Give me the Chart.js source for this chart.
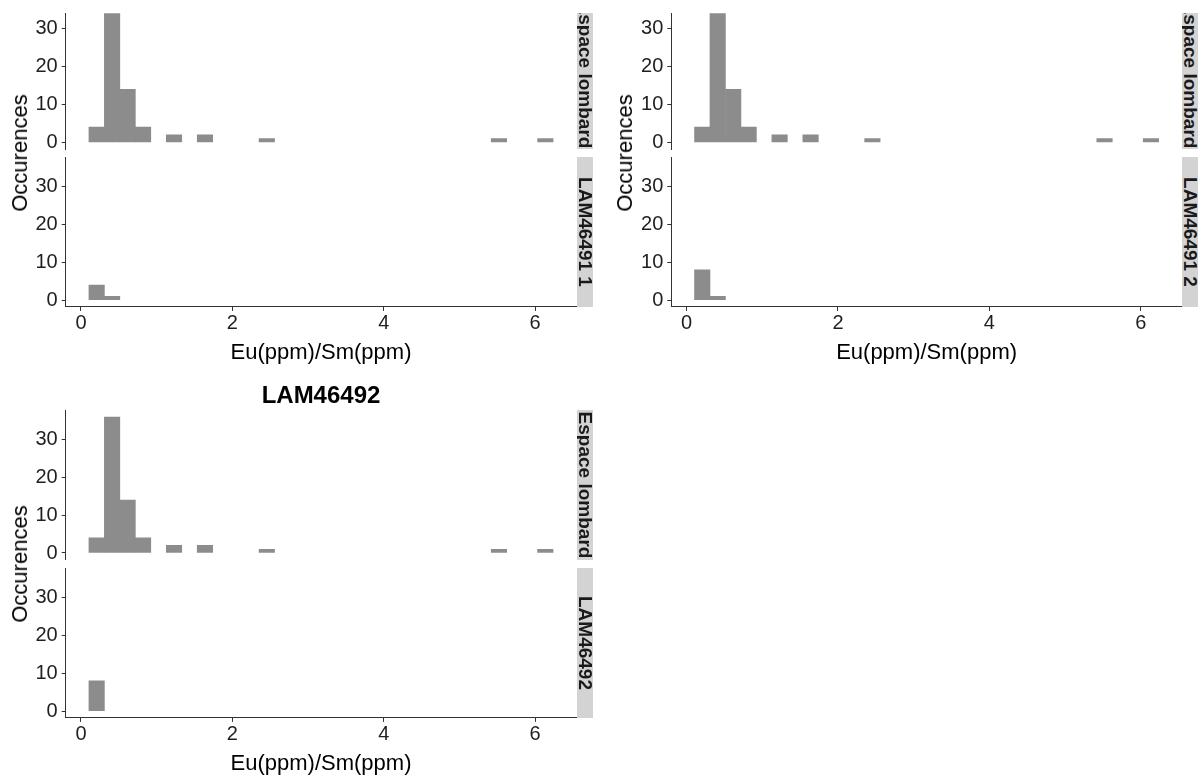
<!DOCTYPE html>
<html>
<head>
<meta charset="utf-8">
<title>Eu(ppm)/Sm(ppm) histograms</title>
<script src="https://cdn.jsdelivr.net/npm/chart.js@4.4.1/dist/chart.umd.min.js"></script>
<style>
  html, body { margin:0; padding:0; background:#ffffff; }
  #page { position:relative; width:1198px; height:776px; overflow:hidden; font-family:"Liberation Sans", Arial, Helvetica, sans-serif; }
  #page canvas { position:absolute; }
  .strip { position:absolute; background:#d3d3d3; overflow:hidden; }
  .strip span { position:absolute; left:50%; white-space:nowrap; font-weight:bold; font-size:19px; line-height:1; color:#1a1a1a; transform:translate(-50%,-50%) rotate(90deg); }
  .ytitle { position:absolute; white-space:nowrap; font-size:22px; line-height:1; color:#000; transform:translate(-50%,-50%) rotate(-90deg); }
  .ptitle { position:absolute; white-space:nowrap; font-size:24px; font-weight:bold; line-height:1; color:#000; transform:translate(-50%,-50%); }
</style>
</head>
<body>
<div id="page"></div>
<script>
// ---------------- data ----------------
const binCenters = [0.207, 0.411, 0.616, 0.820, 1.024, 1.229, 1.433, 1.638, 1.842, 2.046,
                    2.251, 2.455, 2.660, 2.864, 3.069, 3.273, 3.477, 3.682, 3.886, 4.091,
                    4.295, 4.500, 4.704, 4.908, 5.113, 5.317, 5.522, 5.726, 5.930, 6.135];
const espaceLombard = [4, 36, 14, 4, 0, 2, 0, 2, 0, 0,
                       0, 1, 0, 0, 0, 0, 0, 0, 0, 0,
                       0, 0, 0, 0, 0, 0, 1, 0, 0, 1];
const lam46491_1 = [4, 1, 0, 0, 0, 0, 0, 0, 0, 0,
                    0, 0, 0, 0, 0, 0, 0, 0, 0, 0,
                    0, 0, 0, 0, 0, 0, 0, 0, 0, 0];
const lam46491_2 = [8, 1, 0, 0, 0, 0, 0, 0, 0, 0,
                    0, 0, 0, 0, 0, 0, 0, 0, 0, 0,
                    0, 0, 0, 0, 0, 0, 0, 0, 0, 0];
const lam46492 = [8, 0, 0, 0, 0, 0, 0, 0, 0, 0,
                  0, 0, 0, 0, 0, 0, 0, 0, 0, 0,
                  0, 0, 0, 0, 0, 0, 0, 0, 0, 0];
const xTickValues = [0, 2, 4, 6];
const yTickValues = [0, 10, 20, 30];
const xLimits = [-0.202, 6.544];
const yLimits = [-1.8, 37.8];
const yLimitsCropped = [-1.8, 34.15];
const referenceLabel = 'Espace lombard';
const xTitle = 'Eu(ppm)/Sm(ppm)';
const yTitle = 'Occurences';

// ---------------- style ----------------
const BAR = '#8c8c8c';
const AXIS = '#333333';
const TICKTXT = '#1f1f1f';
Chart.defaults.font.family = '"Liberation Sans", Arial, Helvetica, sans-serif';
const page = document.getElementById('page');

const panels = [
  { axisX: 65.7, rightX: 576.3, stripX: [576.5, 593],
    upper: { top: 13.3, bottom: 149.1, lim: yLimitsCropped, textY: 74.6 },
    lower: { top: 157.3, bottom: 306.9 },
    counts: lam46491_1, label: 'LAM46491 1', yTitlePos: [19.5, 153], title: null },
  { axisX: 671.3, rightX: 1181.9, stripX: [1182.1, 1198.6],
    upper: { top: 13.3, bottom: 149.1, lim: yLimitsCropped, textY: 74.6 },
    lower: { top: 157.3, bottom: 306.9 },
    counts: lam46491_2, label: 'LAM46491 2', yTitlePos: [624.6, 153], title: null },
  { axisX: 65.7, rightX: 576.3, stripX: [576.5, 593],
    upper: { top: 410.2, bottom: 559.8, lim: yLimits, textY: null },
    lower: { top: 568.3, bottom: 717.9 },
    counts: lam46492, label: 'LAM46492', yTitlePos: [19.5, 564], title: { text: 'LAM46492', x: 321, y: 395 } }
];

function addText(cls, text, x, y) {
  const d = document.createElement('div');
  d.className = cls; d.textContent = text;
  d.style.left = x + 'px'; d.style.top = y + 'px';
  page.appendChild(d);
}

function addStrip(x0, x1, y0, y1, text, cy) {
  const s = document.createElement('div');
  s.className = 'strip';
  s.style.left = x0 + 'px'; s.style.top = y0 + 'px';
  s.style.width = (x1 - x0) + 'px'; s.style.height = (y1 - y0) + 'px';
  const sp = document.createElement('span');
  sp.textContent = text;
  sp.style.top = (cy == null ? (y1 - y0) / 2 : cy - y0) + 'px';
  s.appendChild(sp);
  page.appendChild(s);
}

function noPad(s) { s.paddingTop = 0; s.paddingBottom = 0; s.paddingLeft = 0; s.paddingRight = 0; }

function makeFacet(geo, facet, counts, yLim, showX, label) {
  const cv = document.createElement('canvas');
  const xH = 59.3;
  const cLeft = Math.max(0, Math.floor(geo.axisX - 66));
  const cRight = Math.min(1198, Math.ceil(geo.rightX) + 2);
  const cTop = Math.floor(facet.top) - 3;
  const cBottom = showX ? Math.ceil(facet.bottom + xH) + 2 : Math.ceil(facet.bottom) + 3;
  cv.width = cRight - cLeft; cv.height = cBottom - cTop;
  cv.style.left = cLeft + 'px'; cv.style.top = cTop + 'px';
  cv.style.width = cv.width + 'px'; cv.style.height = cv.height + 'px';
  page.appendChild(cv);
  const yW = geo.axisX - cLeft;
  new Chart(cv, {
    type: 'bar',
    data: { datasets: [{
      label: label,
      data: binCenters.map((x, i) => ({ x: x, y: counts[i] > 0 ? counts[i] : null })),
      backgroundColor: BAR, borderWidth: 0, barPercentage: 1, categoryPercentage: 1, clip: 0
    }]},
    options: {
      responsive: false, animation: false, events: [],
      layout: { padding: { left: 0, top: facet.top - cTop, right: cRight - geo.rightX,
                           bottom: cBottom - facet.bottom - (showX ? xH : 0) } },
      plugins: { legend: { display: false }, tooltip: { enabled: false } },
      scales: {
        x: {
          type: 'linear', min: xLimits[0], max: xLimits[1], offset: false, display: showX,
          afterBuildTicks: s => { s.ticks = xTickValues.map(v => ({ value: v })); },
          afterFit: s => { if (showX) s.height = xH; noPad(s); },
          grid: { offset: false, drawOnChartArea: false, drawTicks: true, tickLength: 4, color: AXIS, lineWidth: 1 },
          border: { display: true, color: AXIS, width: 1 },
          ticks: { font: { size: 20 }, color: TICKTXT, padding: 1, maxRotation: 0, autoSkip: false,
                   callback: v => String(v) },
          title: { display: true, text: xTitle, font: { size: 22 }, color: '#000',
                   padding: { top: 0, bottom: 0 } }
        },
        y: {
          type: 'linear', min: yLim[0], max: yLim[1],
          afterBuildTicks: s => { s.ticks = yTickValues.map(v => ({ value: v })); },
          afterFit: s => { s.width = yW; noPad(s); },
          grid: { offset: false, drawOnChartArea: false, drawTicks: true, tickLength: 4, color: AXIS, lineWidth: 1 },
          border: { display: true, color: AXIS, width: 1 },
          ticks: { font: { size: 20 }, color: TICKTXT, padding: 4, callback: v => String(v) }
        }
      }
    }
  });
}

panels.forEach(p => {
  makeFacet(p, p.upper, espaceLombard, p.upper.lim, false, referenceLabel);
  makeFacet(p, p.lower, p.counts, yLimits, true, p.label);
  addStrip(p.stripX[0], p.stripX[1], p.upper.top, p.upper.bottom, referenceLabel, p.upper.textY);
  addStrip(p.stripX[0], p.stripX[1], p.lower.top, p.lower.bottom, p.label, null);
  addText('ytitle', yTitle, p.yTitlePos[0], p.yTitlePos[1]);
  if (p.title) addText('ptitle', p.title.text, p.title.x, p.title.y);
});
</script>
</body>
</html>
